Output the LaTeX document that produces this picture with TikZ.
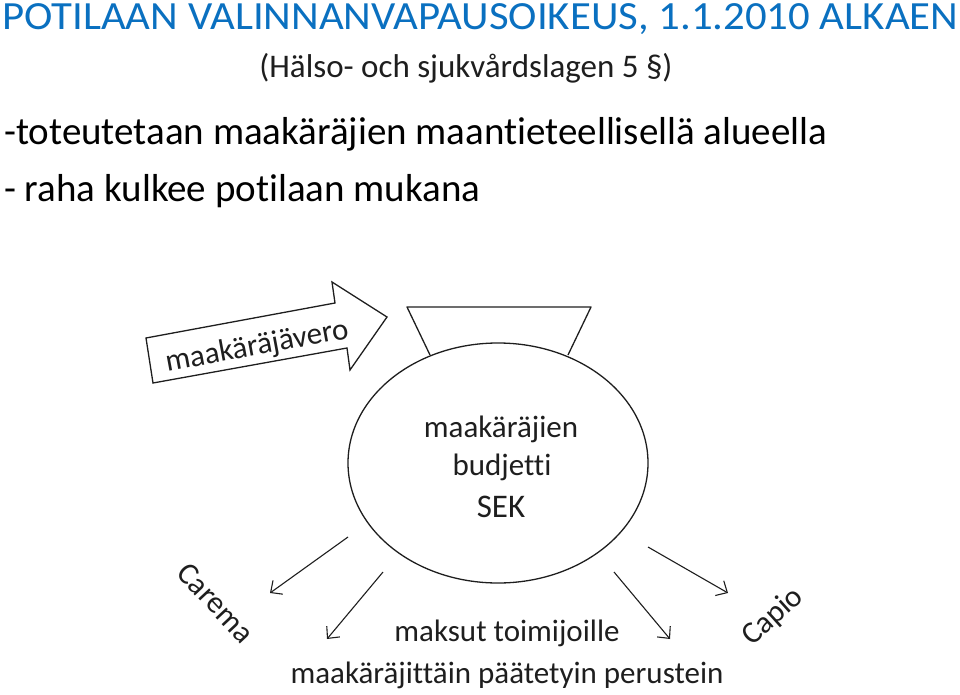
\documentclass[tikz,border=0pt]{standalone}
\usepackage{fontspec}
\setmainfont{Carlito}[Ligatures=NoCommon]
\usetikzlibrary{arrows.meta,shapes.geometric}
\definecolor{titleblue}{RGB}{10,112,192}
\definecolor{ink}{RGB}{30,30,30}
\begin{document}
\begin{tikzpicture}[x=1pt,y=-1pt,
  dtxt/.style={inner sep=0pt, anchor=base, text=ink, font=\fontsize{31}{31}\selectfont},
  flow/.style={draw=ink, line width=1.1pt, -{Straight Barb[length=9pt,width=17pt,line width=1.1pt]}},
  shapeline/.style={draw=ink, line width=1.3pt},
  ]
\useasboundingbox (0,0) rectangle (960,695);
% header texts
\node[inner sep=0pt, anchor=base west, text=titleblue, font=\fontsize{40}{40}\selectfont, xscale=1.07] (title) at (2,30) {POTILAAN VALINNANVAPAUSOIKEUS, 1.1.2010 ALKAEN};
\node[inner sep=0pt, anchor=base, text=ink, font=\fontsize{33}{33}\selectfont] (sub) at (466,78) {(Hälso- och sjukvårdslagen 5 §)};
\node[inner sep=0pt, anchor=base west, text=black, font=\fontsize{39}{39}\selectfont] (l3) at (4,145) {-toteutetaan maakäräjien maantieteellisellä alueella};
\node[inner sep=0pt, anchor=base west, text=black, font=\fontsize{39}{39}\selectfont] (l4) at (4,201) {- raha kulkee potilaan mukana};
% budget ellipse (purse)
\node[shapeline, ellipse, minimum width=300pt, minimum height=240pt, inner sep=0pt] (budget) at (498,463) {};
\coordinate (tl) at (407,307);
\coordinate (tr) at (591,307);
\coordinate (bl) at (430,355);
\coordinate (br) at (568,355);
\draw[shapeline, line join=round] (bl) -- (tl) -- (tr) -- (br);
\node[dtxt] (b1) at (501,437) {maakäräjien};
\node[dtxt] (b2) at (502,475) {budjetti};
\node[dtxt, font=\fontsize{33}{33}\selectfont] (b3) at (501,517) {SEK};
% tax arrow
\draw[shapeline, line join=miter] (146,338) -- (335,303) -- (332,282) -- (387,317) -- (350,370) -- (347,348) -- (153,383) -- cycle;
\node[dtxt, anchor=center, rotate=10.5] (tax) at (257,347) {maakäräjävero};
% payment arrows
\coordinate (s1) at (348,537); \coordinate (e1) at (270,593);
\coordinate (s2) at (383,572); \coordinate (e2) at (327,639);
\coordinate (s3) at (614,572); \coordinate (e3) at (670,639);
\coordinate (s4) at (648,547); \coordinate (e4) at (728,593);
\draw[flow] (s1) -- (e1);
\draw[flow] (s2) -- (e2);
\draw[flow] (s3) -- (e3);
\draw[flow] (s4) -- (e4);
\node[dtxt, anchor=center, rotate=-47] (carema) at (216,603) {Carema};
\node[dtxt, anchor=center, rotate=42] (capio) at (773,617) {Capio};
\node[dtxt] (p1) at (507,641) {maksut toimijoille};
\node[dtxt] (p2) at (507,683) {maakäräjittäin päätetyin perustein};
\end{tikzpicture}
\end{document}
